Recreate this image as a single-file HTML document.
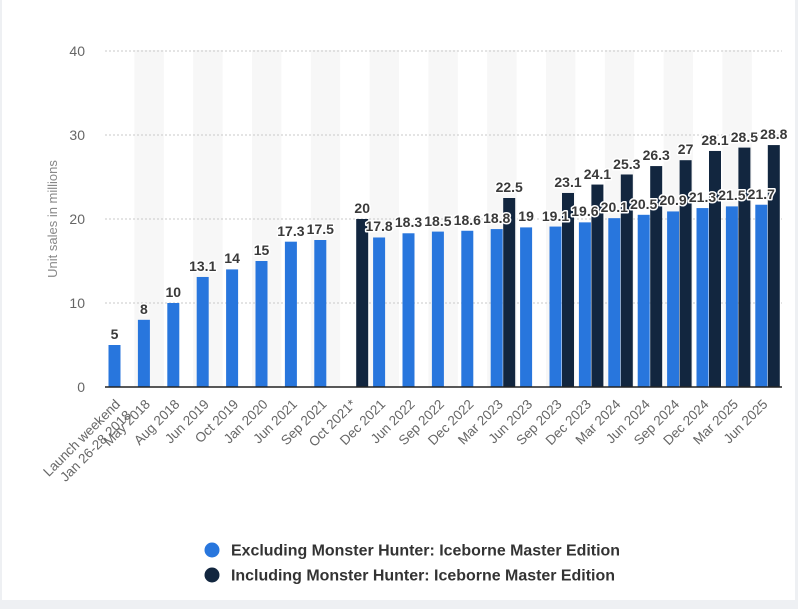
<!DOCTYPE html>
<html><head><meta charset="utf-8"><style>
html,body{margin:0;padding:0;background:#fff;}
svg{display:block;font-family:"Liberation Sans",Arial,sans-serif;}
.v{font-size:14px;font-weight:bold;fill:#3a3a3a;stroke:#fff;stroke-width:3px;paint-order:stroke;stroke-linejoin:round;text-anchor:middle;}
.c{font-size:13.5px;fill:#666;text-anchor:end;}
.t{font-size:14px;fill:#666;text-anchor:end;}
</style></head><body>
<svg width="798" height="609" viewBox="0 0 798 609">
<rect x="0" y="0" width="798" height="609" fill="#fff"/>
<rect x="0" y="0" width="2" height="609" fill="#eef0f3"/>
<rect x="795" y="0" width="3" height="609" fill="#eef0f3"/>
<rect x="0" y="600" width="798" height="9" fill="#eef0f3"/>
<g fill="#f7f7f7">
<rect x="134.4" y="50" width="29.4" height="337"/>
<rect x="193.2" y="50" width="29.4" height="337"/>
<rect x="252" y="50" width="29.4" height="337"/>
<rect x="310.8" y="50" width="29.4" height="337"/>
<rect x="369.6" y="50" width="29.4" height="337"/>
<rect x="428.4" y="50" width="29.4" height="337"/>
<rect x="487.2" y="50" width="29.4" height="337"/>
<rect x="546" y="50" width="29.4" height="337"/>
<rect x="604.8" y="50" width="29.4" height="337"/>
<rect x="663.6" y="50" width="29.4" height="337"/>
<rect x="722.4" y="50" width="29.4" height="337"/>
</g>
<g stroke="#c8c8c8" stroke-dasharray="2,2" stroke-width="1">
<line x1="105" x2="782" y1="51" y2="51"/>
<line x1="105" x2="782" y1="135" y2="135"/>
<line x1="105" x2="782" y1="219" y2="219"/>
<line x1="105" x2="782" y1="303" y2="303"/>
</g>
<g class="t">
<text x="85" y="56">40</text><text x="85" y="140">30</text><text x="85" y="224">20</text><text x="85" y="308">10</text><text x="85" y="392">0</text>
</g>
<text transform="translate(57,219) rotate(-90)" font-size="13" fill="#888" text-anchor="middle">Unit sales in millions</text>
<g fill="#2876dd">
<rect x="108.5" y="345" width="12" height="42"/>
<rect x="137.9" y="319.8" width="12" height="67.2"/>
<rect x="167.3" y="303" width="12" height="84"/>
<rect x="196.7" y="276.96" width="12" height="110.04"/>
<rect x="226.1" y="269.4" width="12" height="117.6"/>
<rect x="255.5" y="261" width="12" height="126"/>
<rect x="284.9" y="241.68" width="12" height="145.32"/>
<rect x="314.3" y="240" width="12" height="147"/>
<rect x="373.1" y="237.48" width="12" height="149.52"/>
<rect x="402.5" y="233.28" width="12" height="153.72"/>
<rect x="431.9" y="231.6" width="12" height="155.4"/>
<rect x="461.3" y="230.76" width="12" height="156.24"/>
<rect x="490.7" y="229.08" width="12" height="157.92"/>
<rect x="520.1" y="227.4" width="12" height="159.6"/>
<rect x="549.5" y="226.56" width="12" height="160.44"/>
<rect x="578.9" y="222.36" width="12" height="164.64"/>
<rect x="608.3" y="218.16" width="12" height="168.84"/>
<rect x="637.7" y="214.8" width="12" height="172.2"/>
<rect x="667.1" y="211.44" width="12" height="175.56"/>
<rect x="696.5" y="208.08" width="12" height="178.92"/>
<rect x="725.9" y="206.4" width="12" height="180.6"/>
<rect x="755.3" y="204.72" width="12" height="182.28"/>
</g>
<g fill="#12263f">
<rect x="356.2" y="219" width="12" height="168"/>
<rect x="503.2" y="198" width="12" height="189"/>
<rect x="562" y="192.96" width="12" height="194.04"/>
<rect x="591.4" y="184.56" width="12" height="202.44"/>
<rect x="620.8" y="174.48" width="12" height="212.52"/>
<rect x="650.2" y="166.08" width="12" height="220.92"/>
<rect x="679.6" y="160.2" width="12" height="226.8"/>
<rect x="709" y="150.96" width="12" height="236.04"/>
<rect x="738.4" y="147.6" width="12" height="239.4"/>
<rect x="767.8" y="145.08" width="12" height="241.92"/>
</g>
<line x1="105" x2="782" y1="387" y2="387" stroke="#222" stroke-width="1.5"/>
<g class="v">
<text x="114.5" y="339">5</text>
<text x="143.9" y="314">8</text>
<text x="173.3" y="297">10</text>
<text x="202.7" y="271">13.1</text>
<text x="232.1" y="263">14</text>
<text x="261.5" y="255">15</text>
<text x="290.9" y="236">17.3</text>
<text x="320.3" y="234">17.5</text>
<text x="362.2" y="213">20</text>
<text x="379.1" y="231">17.8</text>
<text x="408.5" y="227">18.3</text>
<text x="437.9" y="226">18.5</text>
<text x="467.3" y="225">18.6</text>
<text x="496.7" y="223">18.8</text>
<text x="509.2" y="192">22.5</text>
<text x="526.1" y="221">19</text>
<text x="555.5" y="221">19.1</text>
<text x="568" y="187">23.1</text>
<text x="584.9" y="216">19.6</text>
<text x="597.4" y="179">24.1</text>
<text x="614.3" y="212">20.1</text>
<text x="626.8" y="169">25.3</text>
<text x="643.7" y="209">20.5</text>
<text x="656.2" y="160">26.3</text>
<text x="673.1" y="205">20.9</text>
<text x="685.6" y="154">27</text>
<text x="702.5" y="202">21.3</text>
<text x="715" y="145">28.1</text>
<text x="731.9" y="200">21.5</text>
<text x="744.4" y="142">28.5</text>
<text x="761.3" y="199">21.7</text>
<text x="773.8" y="139">28.8</text>
</g>
<g class="c">
<text transform="translate(121,405) rotate(-45)">Launch weekend</text>
<text transform="translate(132,416) rotate(-45)">Jan 26-28 2018</text>
<text transform="translate(151,405) rotate(-45)">May 2018</text>
<text transform="translate(180.4,405) rotate(-45)">Aug 2018</text>
<text transform="translate(209.8,405) rotate(-45)">Jun 2019</text>
<text transform="translate(239.2,405) rotate(-45)">Oct 2019</text>
<text transform="translate(268.6,405) rotate(-45)">Jan 2020</text>
<text transform="translate(298,405) rotate(-45)">Jun 2021</text>
<text transform="translate(327.4,405) rotate(-45)">Sep 2021</text>
<text transform="translate(356.8,405) rotate(-45)">Oct 2021*</text>
<text transform="translate(386.2,405) rotate(-45)">Dec 2021</text>
<text transform="translate(415.6,405) rotate(-45)">Jun 2022</text>
<text transform="translate(445,405) rotate(-45)">Sep 2022</text>
<text transform="translate(474.4,405) rotate(-45)">Dec 2022</text>
<text transform="translate(503.8,405) rotate(-45)">Mar 2023</text>
<text transform="translate(533.2,405) rotate(-45)">Jun 2023</text>
<text transform="translate(562.6,405) rotate(-45)">Sep 2023</text>
<text transform="translate(592,405) rotate(-45)">Dec 2023</text>
<text transform="translate(621.4,405) rotate(-45)">Mar 2024</text>
<text transform="translate(650.8,405) rotate(-45)">Jun 2024</text>
<text transform="translate(680.2,405) rotate(-45)">Sep 2024</text>
<text transform="translate(709.6,405) rotate(-45)">Dec 2024</text>
<text transform="translate(739,405) rotate(-45)">Mar 2025</text>
<text transform="translate(768.4,405) rotate(-45)">Jun 2025</text>
</g>
<circle cx="212" cy="550" r="7.5" fill="#2876dd"/>
<circle cx="212" cy="575" r="7.5" fill="#12263f"/>
<text x="231" y="555.5" font-size="15.5" font-weight="bold" fill="#333" textLength="389" lengthAdjust="spacingAndGlyphs">Excluding Monster Hunter: Iceborne Master Edition</text>
<text x="231" y="580.5" font-size="15.5" font-weight="bold" fill="#333" textLength="384" lengthAdjust="spacingAndGlyphs">Including Monster Hunter: Iceborne Master Edition</text>
</svg>
</body></html>
